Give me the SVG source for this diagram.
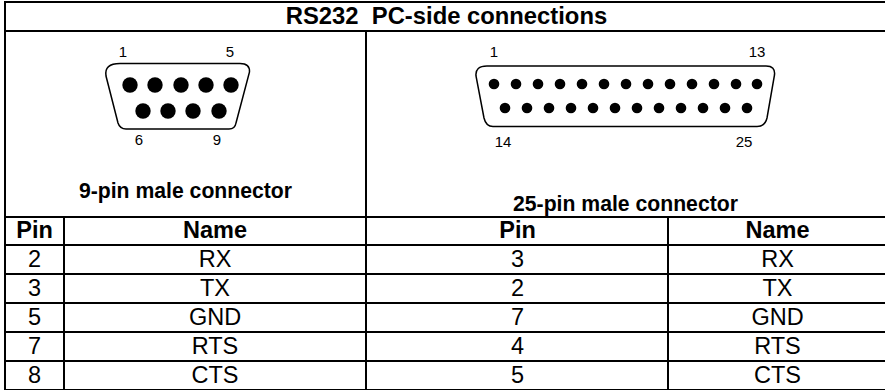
<svg xmlns="http://www.w3.org/2000/svg" width="885" height="390" viewBox="0 0 885 390">
<style>
text{font-family:"Liberation Sans",Arial,sans-serif;fill:#000;text-anchor:middle;white-space:pre}
.t{font-size:23.800px;font-weight:bold}
.h{font-size:23.500px;font-weight:bold}
.c{font-size:23.500px}
.b{font-size:21.200px;font-weight:bold}
.n{font-size:15px}
.g{stroke:#000;stroke-width:2;fill:none}
.s{fill:#fff;stroke:#000;stroke-width:1.5}
</style>
<rect width="885" height="390" fill="#fff"/>
<g id="grid">
<path class="g" d="M4 2H885M5 31H885M5 217H885M5 245H885M5 274H885M5 303H885M5 332H885M5 361H885M5 390H885M5 1V390M366 31V390M64 217V390M668 217V390"/>
</g>
<g id="title"><text class="t" x="446.500" y="24" xml:space="preserve">RS232  PC-side connections</text></g>
<g id="db9">
<path class="s" d="M120 63.500H240Q250 63.500 249.500 72L236 123Q235 129 229 129H126Q120 129 118 123L106 76Q104 63.500 120 63.500Z"/>
<g fill="#000"><circle cx="130" cy="85" r="7.700"/><circle cx="155" cy="85" r="7.700"/><circle cx="181" cy="85" r="7.700"/><circle cx="206" cy="85" r="7.700"/><circle cx="231" cy="85" r="7.700"/><circle cx="143" cy="111" r="7.700"/><circle cx="168" cy="111" r="7.700"/><circle cx="193" cy="111" r="7.700"/><circle cx="219" cy="111" r="7.700"/></g>
<text class="n" x="123" y="57">1</text><text class="n" x="230" y="57">5</text><text class="n" x="139" y="145">6</text><text class="n" x="217" y="145">9</text>
<text class="b" x="185.500" y="198">9-pin male connector</text>
</g>
<g id="db25">
<path class="s" d="M487 66H766Q775.500 66 774.500 75L767 118Q765 126.500 757 126.500H493Q486 126.500 484 118L476 76Q475 66 487 66Z"/>
<g fill="#000"><circle cx="494" cy="84" r="5.300"/><circle cx="516" cy="84" r="5.300"/><circle cx="538" cy="84" r="5.300"/><circle cx="560" cy="84" r="5.300"/><circle cx="582" cy="84" r="5.300"/><circle cx="604" cy="84" r="5.300"/><circle cx="626" cy="84" r="5.300"/><circle cx="648" cy="84" r="5.300"/><circle cx="670" cy="84" r="5.300"/><circle cx="692" cy="84" r="5.300"/><circle cx="714" cy="84" r="5.300"/><circle cx="736" cy="84" r="5.300"/><circle cx="757" cy="84" r="5.300"/>
<circle cx="505" cy="108" r="5.300"/><circle cx="527" cy="108" r="5.300"/><circle cx="549" cy="108" r="5.300"/><circle cx="571" cy="108" r="5.300"/><circle cx="593" cy="108" r="5.300"/><circle cx="615" cy="108" r="5.300"/><circle cx="637" cy="108" r="5.300"/><circle cx="659" cy="108" r="5.300"/><circle cx="681" cy="108" r="5.300"/><circle cx="703" cy="108" r="5.300"/><circle cx="725" cy="108" r="5.300"/><circle cx="747" cy="108" r="5.300"/></g>
<text class="n" x="494" y="57">1</text><text class="n" x="757" y="57">13</text><text class="n" x="503" y="147">14</text><text class="n" x="744" y="147">25</text>
<text class="b" x="625.500" y="211">25-pin male connector</text>
</g>
<g id="table">
<text class="h" x="34.500" y="238">Pin</text><text class="h" x="215" y="238">Name</text><text class="h" x="517.500" y="238">Pin</text><text class="h" x="777.500" y="238">Name</text>
<text class="c" x="34.500" y="267">2</text><text class="c" x="215" y="267">RX</text><text class="c" x="517.500" y="267">3</text><text class="c" x="777.500" y="267">RX</text>
<text class="c" x="34.500" y="296">3</text><text class="c" x="215" y="296">TX</text><text class="c" x="517.500" y="296">2</text><text class="c" x="777.500" y="296">TX</text>
<text class="c" x="34.500" y="325">5</text><text class="c" x="215" y="325">GND</text><text class="c" x="517.500" y="325">7</text><text class="c" x="777.500" y="325">GND</text>
<text class="c" x="34.500" y="354">7</text><text class="c" x="215" y="354">RTS</text><text class="c" x="517.500" y="354">4</text><text class="c" x="777.500" y="354">RTS</text>
<text class="c" x="34.500" y="383">8</text><text class="c" x="215" y="383">CTS</text><text class="c" x="517.500" y="383">5</text><text class="c" x="777.500" y="383">CTS</text>
</g>
</svg>
